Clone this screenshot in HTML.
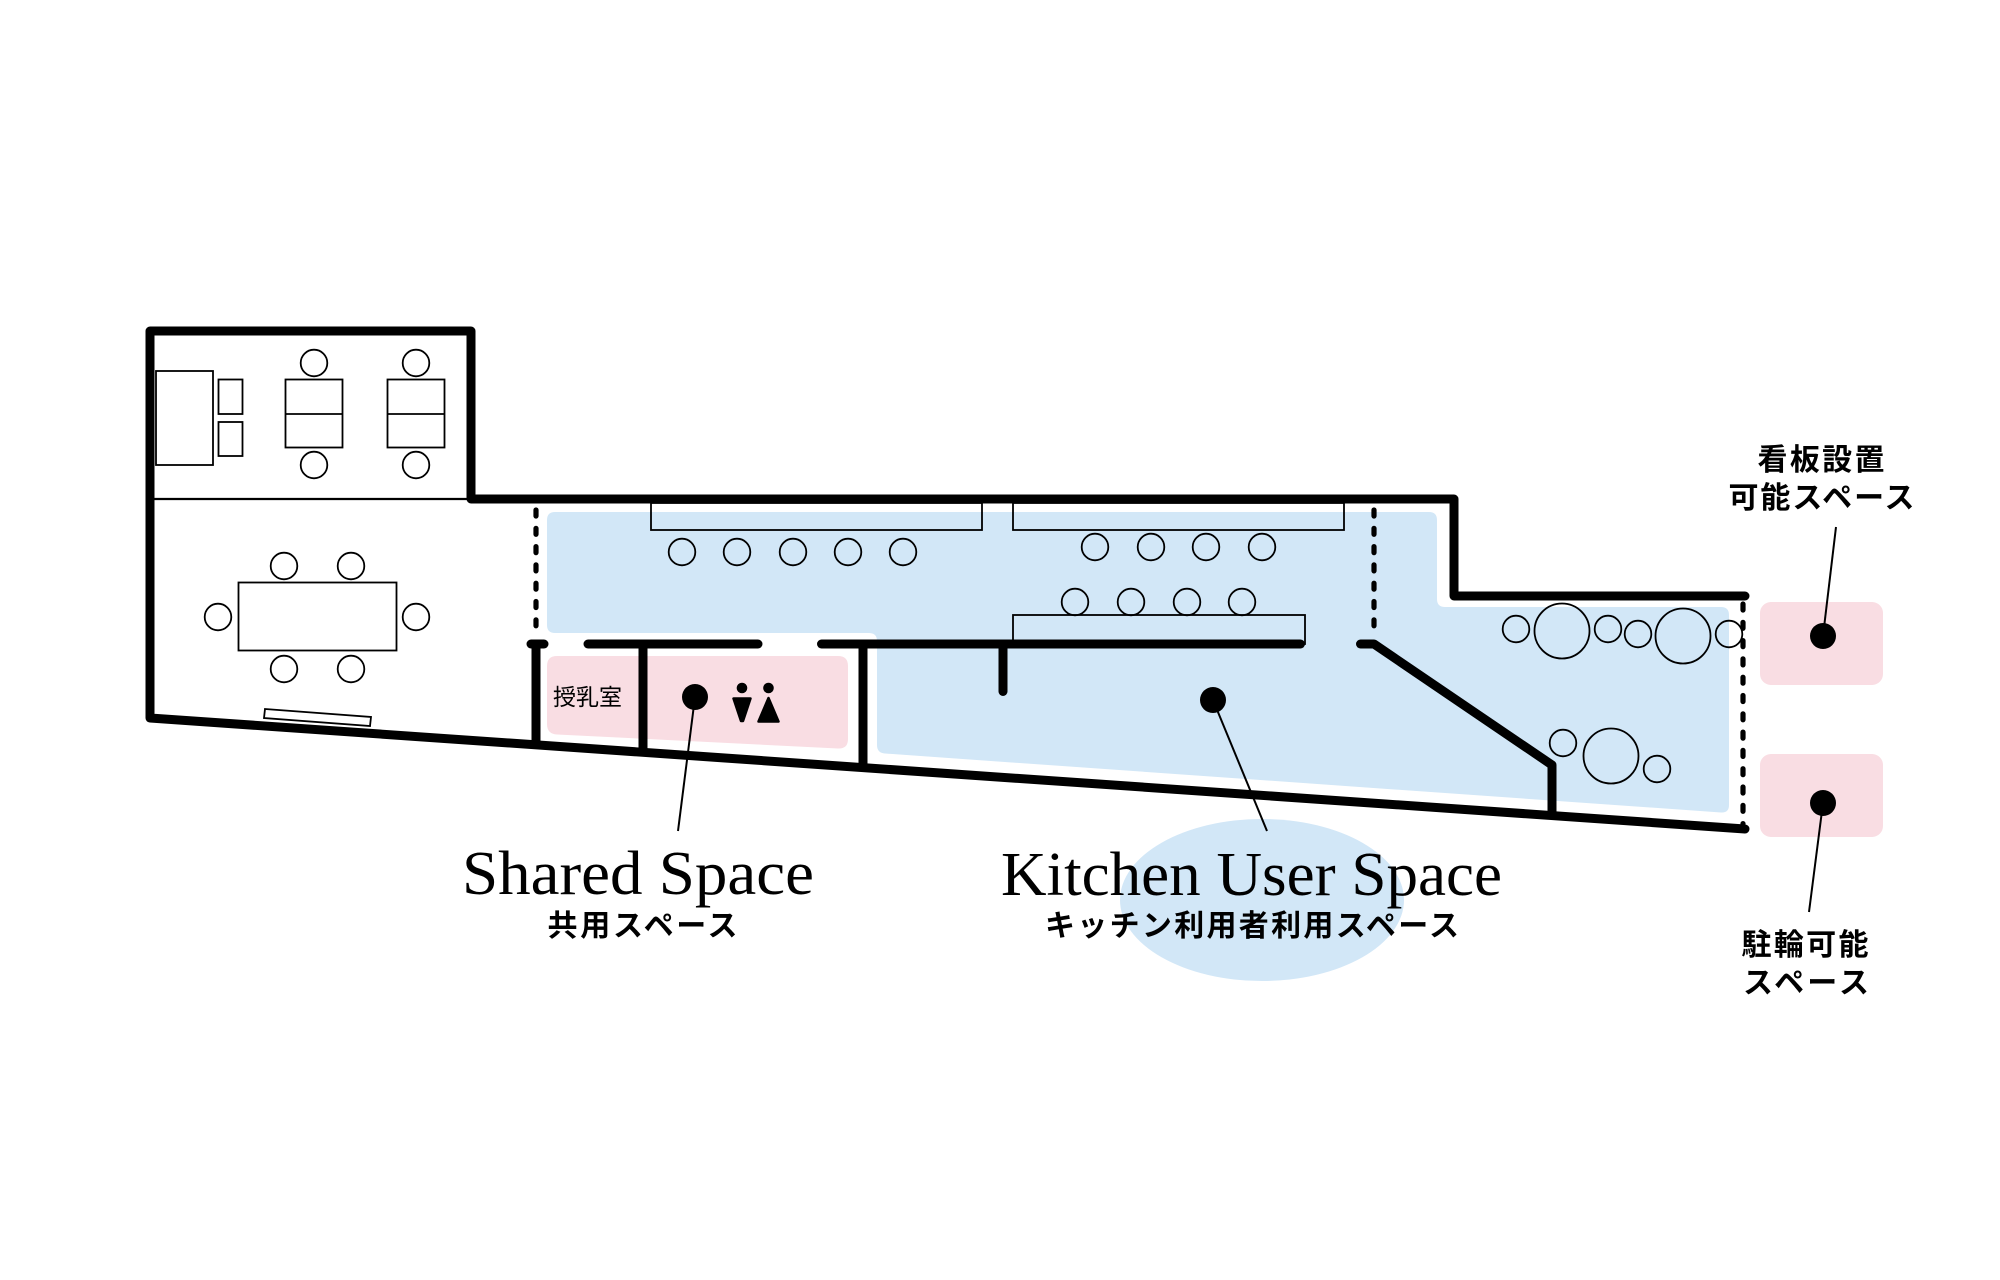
<!DOCTYPE html>
<html>
<head>
<meta charset="utf-8">
<style>
html,body{margin:0;padding:0;background:#fff;}
svg{display:block;}
.jp{font-family:"Liberation Sans","Noto Sans CJK JP",sans-serif;}
.en{font-family:"Liberation Serif",serif;}
</style>
</head>
<body>
<svg width="2000" height="1280" viewBox="0 0 2000 1280" xmlns="http://www.w3.org/2000/svg">
<rect width="2000" height="1280" fill="#fff"/>

<!-- colored regions -->
<path d="M555,512 L1429,512 Q1437,512 1437,520 L1437,599 Q1437,607 1445,607 L1721,607 Q1729,607 1729,615 L1729,805 Q1729,813 1721,812.5 L885,753.5 Q877,753 877,745 L877,641 Q877,633 869,633 L555,633 Q547,633 547,625 L547,520 Q547,512 555,512 Z" fill="#d2e7f7"/>
<path d="M557,656 L838,656 Q848,656 848,666 L848,739 Q848,749 838,748.5 L557,734.5 Q547,734 547,724 L547,666 Q547,656 557,656 Z" fill="#f9dde3"/>
<rect x="1760" y="602" width="123" height="83" rx="11" fill="#f9dde3"/>
<rect x="1760" y="754" width="123" height="83" rx="11" fill="#f9dde3"/>
<ellipse cx="1262" cy="900" rx="142" ry="81" fill="#d2e7f7"/>

<!-- thin furniture -->
<g fill="none" stroke="#000" stroke-width="1.8">
  <line x1="150" y1="499" x2="471" y2="499" stroke-width="2.2"/>
  <rect x="156" y="371" width="57" height="94"/>
  <rect x="218.5" y="379.5" width="24" height="34.5"/>
  <rect x="218.5" y="422" width="24" height="34"/>
  <rect x="285.5" y="379.5" width="57" height="68"/>
  <line x1="285.5" y1="414" x2="342.5" y2="414"/>
  <rect x="387.5" y="379.5" width="57" height="68"/>
  <line x1="387.5" y1="414" x2="444.5" y2="414"/>
  <circle cx="314" cy="363" r="13.3"/>
  <circle cx="314" cy="465" r="13.3"/>
  <circle cx="416" cy="363" r="13.3"/>
  <circle cx="416" cy="465" r="13.3"/>
  <rect x="238.5" y="582.5" width="158" height="68"/>
  <circle cx="284" cy="566" r="13.3"/>
  <circle cx="351" cy="566" r="13.3"/>
  <circle cx="284" cy="669" r="13.3"/>
  <circle cx="351" cy="669" r="13.3"/>
  <circle cx="218" cy="617" r="13.3"/>
  <circle cx="416" cy="617" r="13.3"/>
  <polygon points="265,709 371,717 370,726 264,718"/>

  <rect x="651" y="503" width="331" height="27"/>
  <rect x="1013" y="503" width="331" height="27"/>
  <rect x="1013" y="615" width="292" height="29"/>
  <circle cx="682" cy="552" r="13.3"/>
  <circle cx="737" cy="552" r="13.3"/>
  <circle cx="793" cy="552" r="13.3"/>
  <circle cx="848" cy="552" r="13.3"/>
  <circle cx="903" cy="552" r="13.3"/>
  <circle cx="1095" cy="547" r="13.3"/>
  <circle cx="1151" cy="547" r="13.3"/>
  <circle cx="1206" cy="547" r="13.3"/>
  <circle cx="1262" cy="547" r="13.3"/>
  <circle cx="1075" cy="602" r="13.3"/>
  <circle cx="1131" cy="602" r="13.3"/>
  <circle cx="1187" cy="602" r="13.3"/>
  <circle cx="1242" cy="602" r="13.3"/>

  <circle cx="1516" cy="629" r="13.3"/>
  <circle cx="1562" cy="631" r="27.5"/>
  <circle cx="1608" cy="629" r="13.3"/>
  <circle cx="1638" cy="634" r="13.3"/>
  <circle cx="1683" cy="636" r="27.5"/>
  <circle cx="1729" cy="634" r="13.3"/>
  <circle cx="1563" cy="743" r="13.3"/>
  <circle cx="1611" cy="756" r="27.5"/>
  <circle cx="1657" cy="769" r="13.3"/>
</g>

<!-- thick walls -->
<g fill="none" stroke="#000" stroke-width="9" stroke-linecap="round" stroke-linejoin="round">
  <path d="M1745,596 L1454,596 L1454,499 L471,499 L471,331 L150,331 L150,718 L1745,829"/>
  <line x1="531" y1="644" x2="544" y2="644"/>
  <line x1="536" y1="644" x2="536" y2="744" stroke-linecap="butt"/>
  <line x1="588" y1="644" x2="758" y2="644"/>
  <line x1="643" y1="644" x2="643" y2="752" stroke-linecap="butt"/>
  <line x1="821.5" y1="644" x2="1300.5" y2="644"/>
  <line x1="863" y1="644" x2="863" y2="767" stroke-linecap="butt"/>
  <line x1="1003" y1="644" x2="1003" y2="691.5"/>
  <path d="M1360.5,644 L1374,644 L1552,765 L1552,815" stroke-linecap="butt"/>
  <line x1="1360.5" y1="644" x2="1370" y2="644"/>
</g>

<!-- dashed lines -->
<g fill="none" stroke="#000" stroke-width="5.2" stroke-linecap="round" stroke-dasharray="6 12.3">
  <line x1="536" y1="510" x2="536" y2="633"/>
  <line x1="1374" y1="510" x2="1374" y2="631"/>
  <line x1="1743" y1="604" x2="1743" y2="824"/>
</g>

<!-- leader lines & dots -->
<g stroke="#000" stroke-width="2" fill="none">
  <line x1="695" y1="697" x2="678" y2="831"/>
  <line x1="1213" y1="700" x2="1267" y2="831"/>
  <line x1="1823" y1="636" x2="1836" y2="527"/>
  <line x1="1823" y1="803" x2="1809" y2="912"/>
</g>
<g fill="#000">
  <circle cx="695" cy="697" r="13"/>
  <circle cx="1213" cy="700" r="13"/>
  <circle cx="1823" cy="636" r="13"/>
  <circle cx="1823" cy="803" r="13"/>
  <!-- restroom icons -->
  <circle cx="742" cy="688" r="5.3"/>
  <path d="M733.5,698.5 L750.5,698.5 L743,721 L741,721 Z" stroke="#000" stroke-width="2.5" stroke-linejoin="round"/>
  <circle cx="768.5" cy="688" r="5.3"/>
  <path d="M768.5,698 L778.5,721.5 L758.5,721.5 Z" stroke="#000" stroke-width="2.5" stroke-linejoin="round"/>
</g>

<!-- texts -->
<text class="jp" x="553" y="705" font-size="23" fill="#000">授乳室</text>

<text class="en" x="462" y="894" font-size="62" textLength="352" lengthAdjust="spacingAndGlyphs" fill="#000">Shared Space</text>
<text class="jp" x="642.5" y="936" font-size="30" font-weight="700" text-anchor="middle" textLength="190" lengthAdjust="spacing" fill="#000">共用スペース</text>

<text class="en" x="1001" y="895" font-size="62" textLength="501" lengthAdjust="spacingAndGlyphs" fill="#000">Kitchen User Space</text>
<text class="jp" x="1252" y="936" font-size="30" font-weight="700" text-anchor="middle" textLength="414" lengthAdjust="spacing" fill="#000">キッチン利用者利用スペース</text>

<text class="jp" x="1821" y="470" font-size="30" font-weight="700" text-anchor="middle" textLength="127" lengthAdjust="spacing" fill="#000">看板設置</text>
<text class="jp" x="1821.5" y="508" font-size="30" font-weight="700" text-anchor="middle" textLength="186" lengthAdjust="spacing" fill="#000">可能スペース</text>

<text class="jp" x="1805" y="955" font-size="30" font-weight="700" text-anchor="middle" textLength="127" lengthAdjust="spacing" fill="#000">駐輪可能</text>
<text class="jp" x="1806" y="993" font-size="30" font-weight="700" text-anchor="middle" textLength="126" lengthAdjust="spacing" fill="#000">スペース</text>
</svg>
</body>
</html>
